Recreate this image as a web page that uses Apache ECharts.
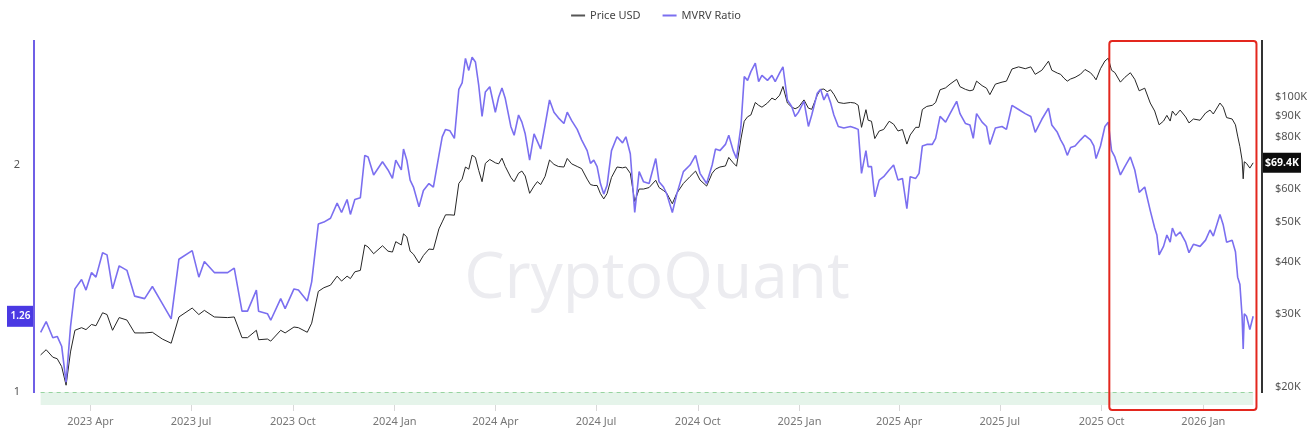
<!DOCTYPE html>
<html>
<head>
<meta charset="utf-8">
<script src="https://cdn.jsdelivr.net/npm/echarts@6.0.0/dist/echarts.min.js"></script>
<style>
  html, body { margin: 0; padding: 0; background: #ffffff; }
  #main { width: 1312px; height: 437px; }
</style>
</head>
<body>
<div id="main"></div>
<script>
// ---------------- DATA ----------------
const dates = [
  '2023-02-15','2023-02-20','2023-02-26','2023-03-02','2023-03-06','2023-03-10','2023-03-14','2023-03-18','2023-03-24','2023-03-28',
  '2023-04-02','2023-04-06','2023-04-12','2023-04-16','2023-04-21','2023-04-27','2023-05-04','2023-05-11','2023-05-20','2023-05-27',
  '2023-06-05','2023-06-13','2023-06-20','2023-07-02','2023-07-08','2023-07-13','2023-07-22','2023-08-03','2023-08-09','2023-08-16',
  '2023-08-21','2023-08-29','2023-08-31','2023-09-08','2023-09-11','2023-09-20','2023-09-24','2023-10-02','2023-10-06','2023-10-14',
  '2023-10-18','2023-10-24','2023-10-29','2023-11-04','2023-11-10','2023-11-14','2023-11-19','2023-11-22','2023-11-26','2023-12-01',
  '2023-12-05','2023-12-08','2023-12-13','2023-12-21','2023-12-26','2023-12-30','2024-01-02','2024-01-07','2024-01-09','2024-01-12',
  '2024-01-15','2024-01-18','2024-01-23','2024-01-27','2024-02-01','2024-02-05','2024-02-10','2024-02-13','2024-02-16','2024-02-20',
  '2024-02-24','2024-02-28','2024-03-02','2024-03-05','2024-03-08','2024-03-11','2024-03-14','2024-03-17','2024-03-20','2024-03-23',
  '2024-03-27','2024-04-01','2024-04-04','2024-04-07','2024-04-10','2024-04-15','2024-04-18','2024-04-22','2024-04-25','2024-04-28',
  '2024-05-02','2024-05-06','2024-05-09','2024-05-12','2024-05-16','2024-05-20','2024-05-24','2024-05-28','2024-06-02','2024-06-05',
  '2024-06-09','2024-06-14','2024-06-18','2024-06-23','2024-06-26','2024-06-29','2024-07-02','2024-07-05','2024-07-08','2024-07-11',
  '2024-07-15','2024-07-20','2024-07-25','2024-07-28','2024-08-01','2024-08-05','2024-08-09','2024-08-13','2024-08-18','2024-08-24',
  '2024-08-27','2024-08-31','2024-09-03','2024-09-08','2024-09-12','2024-09-18','2024-09-24','2024-09-29','2024-10-03','2024-10-09',
  '2024-10-14','2024-10-17','2024-10-21','2024-10-26','2024-10-29','2024-11-02','2024-11-05','2024-11-09','2024-11-12','2024-11-15',
  '2024-11-18','2024-11-22','2024-11-25','2024-11-28','2024-12-03','2024-12-07','2024-12-10','2024-12-14','2024-12-17','2024-12-21',
  '2024-12-25','2024-12-28','2024-12-31','2025-01-05','2025-01-09','2025-01-12','2025-01-17','2025-01-20','2025-01-23','2025-01-26',
  '2025-01-29','2025-02-01','2025-02-05','2025-02-10','2025-02-16','2025-02-20','2025-02-23','2025-02-26','2025-03-02','2025-03-04',
  '2025-03-07','2025-03-10','2025-03-14','2025-03-18','2025-03-23','2025-03-27','2025-03-31','2025-04-04','2025-04-08','2025-04-11',
  '2025-04-16','2025-04-19','2025-04-22','2025-04-26','2025-05-01','2025-05-04','2025-05-08','2025-05-13','2025-05-17','2025-05-23',
  '2025-05-26','2025-05-31','2025-06-04','2025-06-07','2025-06-10','2025-06-15','2025-06-19','2025-06-22','2025-06-27','2025-07-03',
  '2025-07-07','2025-07-12','2025-07-18','2025-07-24','2025-07-29','2025-08-02','2025-08-08','2025-08-14','2025-08-17','2025-08-22',
  '2025-08-25','2025-08-28','2025-08-31','2025-09-03','2025-09-07','2025-09-12','2025-09-16','2025-09-21','2025-09-24','2025-09-26',
  '2025-09-30','2025-10-04','2025-10-07','2025-10-10','2025-10-13','2025-10-18','2025-10-22','2025-10-27','2025-10-31','2025-11-04',
  '2025-11-09','2025-11-14','2025-11-18','2025-11-20','2025-11-22','2025-11-26','2025-11-29','2025-12-02','2025-12-04','2025-12-07',
  '2025-12-11','2025-12-16','2025-12-19','2025-12-23','2025-12-29','2026-01-03','2026-01-07','2026-01-10','2026-01-16','2026-01-19',
  '2026-01-22','2026-01-27','2026-01-30','2026-02-01','2026-02-03','2026-02-05','2026-02-06','2026-02-07','2026-02-09','2026-02-12',
  '2026-02-15'
];

const priceUSD = [
  23900,24600,23600,23400,22400,20200,24300,27400,27800,27500,
  28300,28100,30200,29900,27400,29400,29000,27000,27000,27100,
  26100,25500,29500,31000,29900,30600,29500,29400,29500,26300,
  26300,27400,26000,26100,25800,27400,27000,27900,27800,27100,
  28500,34000,34700,35200,37000,36000,37000,36500,37900,38200,
  44000,43500,41900,43800,42500,42300,44800,44000,46800,46000,
  42500,41800,39800,41500,43000,42900,48100,50000,52000,52000,
  51900,61900,63400,67800,67000,72400,71500,66500,62500,69200,
  70700,69400,69000,71200,68000,64000,62500,65500,66300,64500,
  58600,61000,62500,61500,64400,70500,68800,68000,67800,71100,
  69000,68000,67200,63400,61500,61200,61200,58500,56800,58500,
  64000,67800,67500,67800,65500,56000,60000,60000,60500,63000,
  60500,59500,58600,55300,58600,61900,64300,66300,63100,61000,
  65500,67000,67800,68200,71500,69400,68100,79200,87400,89600,
  90500,97000,95500,94500,96700,99400,98400,101000,106000,96700,
  94500,93700,94500,98400,94000,93400,101000,104300,104500,103000,
  104100,101500,97000,96500,97000,96700,95500,84500,93200,87900,
  87400,79400,82800,83500,87400,86000,82800,83500,77000,81000,
  84500,84500,93300,94900,95500,97000,104100,105200,107400,110300,
  105900,104300,103500,104000,109200,106500,105000,101300,107400,108600,
  109200,116800,118200,117000,118200,113400,116000,122000,116000,114200,
  113400,111000,109200,110500,111500,113500,116500,114400,112000,110000,
  117000,122100,124000,116000,114500,108600,111500,114400,110300,103500,
  105000,96700,92500,89000,85700,87500,90300,87500,92500,90300,
  93000,89500,86600,88500,87900,91500,93000,91000,96700,94500,
  89200,88500,85700,80500,76000,70500,63500,69800,69200,67400,
  69400
];

const mvrvRatio = [
  1.20,1.24,1.18,1.185,1.15,1.03,1.22,1.37,1.41,1.365,
  1.44,1.42,1.53,1.52,1.37,1.47,1.45,1.34,1.33,1.38,
  1.31,1.25,1.50,1.54,1.42,1.49,1.44,1.44,1.46,1.28,
  1.28,1.365,1.28,1.27,1.245,1.33,1.29,1.37,1.365,1.32,
  1.40,1.67,1.68,1.70,1.78,1.73,1.80,1.72,1.80,1.81,
  2.06,2.05,1.94,2.02,1.97,1.92,2.03,1.97,2.10,2.03,
  1.91,1.87,1.76,1.85,1.89,1.87,2.06,2.18,2.23,2.22,
  2.17,2.52,2.57,2.77,2.67,2.78,2.74,2.55,2.32,2.50,
  2.54,2.35,2.46,2.53,2.45,2.25,2.19,2.33,2.28,2.20,
  2.03,2.20,2.15,2.10,2.26,2.44,2.35,2.31,2.27,2.35,
  2.29,2.23,2.16,2.09,2.01,2.03,1.99,1.89,1.83,1.88,
  2.09,2.18,2.14,2.18,2.07,1.73,1.96,1.90,1.89,2.04,
  1.90,1.87,1.83,1.73,1.83,1.96,2.00,2.06,1.95,1.89,
  2.00,2.10,2.09,2.13,2.19,2.09,2.04,2.25,2.62,2.59,
  2.66,2.73,2.58,2.63,2.59,2.63,2.58,2.65,2.70,2.44,
  2.39,2.32,2.35,2.43,2.25,2.33,2.49,2.52,2.44,2.49,
  2.42,2.33,2.25,2.24,2.25,2.24,2.23,1.95,2.09,1.99,
  1.99,1.815,1.91,1.93,1.97,2.00,1.91,1.92,1.75,1.93,
  1.92,1.95,2.12,2.13,2.13,2.17,2.32,2.28,2.34,2.43,
  2.34,2.27,2.26,2.17,2.34,2.28,2.25,2.13,2.24,2.25,
  2.23,2.40,2.37,2.34,2.32,2.21,2.30,2.38,2.26,2.21,
  2.16,2.12,2.06,2.11,2.12,2.16,2.19,2.16,2.12,2.04,
  2.12,2.25,2.28,2.09,2.05,1.94,1.99,2.05,1.97,1.84,
  1.87,1.74,1.65,1.615,1.52,1.56,1.615,1.58,1.65,1.61,
  1.63,1.58,1.53,1.57,1.56,1.59,1.64,1.61,1.72,1.665,
  1.58,1.59,1.535,1.42,1.39,1.26,1.14,1.27,1.26,1.21,
  1.26
];

const monthNames = ['Jan','Feb','Mar','Apr','May','Jun','Jul','Aug','Sep','Oct','Nov','Dec'];
const priceTicks = [20000, 30000, 40000, 50000, 60000, 70000, 80000, 90000, 100000];
const priceTickLabels = ['$20K','$30K','$40K','$50K','$60K','','$80K','$90K','$100K'];
const mvrvTicks = [1, 2];
const highlightRange = ['2025-10-08', '2026-02-18'];
const xRange = ['2023-02-09', '2026-02-23'];
const mvrvRange = [0.961, 2.93];
const priceRange = [18100, 137200];

// ---------------- CHART ----------------
const FONT = '"Noto Sans", "Open Sans", sans-serif';
const QUARTER_MS = 3 * 30.5 * 24 * 3600 * 1000;
const priceSeries = dates.map((d, i) => [d, priceUSD[i]]);
const mvrvSeries = dates.map((d, i) => [d, mvrvRatio[i]]);
const firstDate = dates[0], lastDate = dates[dates.length - 1];

const chart = echarts.init(document.getElementById('main'), null, { renderer: 'canvas' });

const option = {
  animation: false,
  backgroundColor: '#ffffff',
  textStyle: { fontFamily: FONT },
  legend: {
    top: 5, left: 'center',
    itemWidth: 14, itemHeight: 2, itemGap: 22,
    icon: 'rect',
    textStyle: { color: '#444', fontSize: 11, fontFamily: FONT },
    data: [
      { name: 'Price USD', itemStyle: { color: '#555' } },
      { name: 'MVRV Ratio', itemStyle: { color: '#7b6ff0' } }
    ]
  },
  grid: { left: 34, right: 50, top: 40, bottom: 32, outerBoundsMode: 'none', containLabel: false },
  xAxis: {
    type: 'time',
    min: xRange[0], max: xRange[1],
    minInterval: QUARTER_MS, maxInterval: QUARTER_MS,
    splitNumber: 12,
    axisLine: { show: false },
    splitLine: { show: false },
    axisTick: { show: true, length: 6, lineStyle: { color: '#d8d8d8' } },
    axisLabel: {
      color: '#777', fontSize: 11, fontFamily: FONT, margin: 11,
      showMinLabel: false, showMaxLabel: false,
      formatter: function (v) {
        const d = new Date(v);
        return d.getFullYear() + ' ' + monthNames[d.getMonth()];
      }
    }
  },
  yAxis: [
    {
      type: 'log', logBase: 2, position: 'left',
      min: mvrvRange[0], max: mvrvRange[1],
      axisLine: { show: false },
      axisTick: { show: false },
      splitLine: { show: false },
      axisLabel: {
        customValues: mvrvTicks, color: '#555', fontSize: 11, fontFamily: FONT, margin: 14,
        formatter: function (v) { return String(Math.round(v)); }
      }
    },
    {
      type: 'log', logBase: 10, position: 'right',
      min: priceRange[0], max: priceRange[1],
      axisLine: { show: false },
      axisTick: { show: false },
      splitLine: { show: false },
      axisLabel: {
        customValues: priceTicks, color: '#555', fontSize: 11, fontFamily: FONT, margin: 13,
        formatter: function (v) {
          const i = priceTicks.indexOf(Math.round(v));
          return i >= 0 ? priceTickLabels[i] : '';
        }
      }
    }
  ],
  series: [
    {
      name: 'Price USD', type: 'line', yAxisIndex: 1,
      data: priceSeries, showSymbol: false, symbol: 'none',
      lineStyle: { color: '#262626', width: 1 },
      itemStyle: { color: '#555' },
      z: 3
    },
    {
      name: 'MVRV Ratio', type: 'line', yAxisIndex: 0,
      data: mvrvSeries, showSymbol: false, symbol: 'none',
      lineStyle: { color: '#7b6ff0', width: 1.6 },
      itemStyle: { color: '#7b6ff0' },
      z: 4,
      markArea: {
        silent: true,
        itemStyle: { color: '#e5f4ea' },
        data: [[{ coord: [firstDate, mvrvRange[0]] }, { coord: [lastDate, 1] }]]
      },
      markLine: {
        silent: true, symbol: 'none', label: { show: false },
        lineStyle: { color: '#97d39f', type: [4, 4], width: 1 },
        data: [[{ coord: [firstDate, 1] }, { coord: [lastDate, 1] }]]
      }
    }
  ]
};

chart.setOption(option);

// ---------------- overlays positioned through the chart's own scales ----------------
const gridRect = chart.getModel().getComponent('grid').coordinateSystem.getRect();
const lastI = dates.length - 1;
const yLastMvrv = chart.convertToPixel({ yAxisIndex: 0 }, mvrvRatio[lastI]);
const yLastPrice = chart.convertToPixel({ yAxisIndex: 1 }, priceUSD[lastI]);
const yOne = chart.convertToPixel({ yAxisIndex: 0 }, 1);
const xBox0 = chart.convertToPixel({ xAxisIndex: 0 }, highlightRange[0]);
const xBox1 = chart.convertToPixel({ xAxisIndex: 0 }, highlightRange[1]);
const gx0 = gridRect.x, gx1 = gridRect.x + gridRect.width;
const gy0 = gridRect.y, gy1 = gridRect.y + gridRect.height;

chart.setOption({
  graphic: [
    { // watermark
      type: 'text', silent: true, z: 0,
      x: (gx0 + gx1) / 2 + 9, y: 280,
      style: { text: 'CryptoQuant', fill: '#ececf0', font: '400 64px "Open Sans", "Noto Sans", sans-serif',
               textAlign: 'center', textVerticalAlign: 'middle' }
    },
    { // left axis line
      type: 'line', silent: true, z: 10,
      shape: { x1: gx0, y1: gy0, x2: gx0, y2: yOne + 1 },
      style: { stroke: '#6f5fe6', lineWidth: 2 }
    },
    { // right axis line
      type: 'line', silent: true, z: 10,
      shape: { x1: gx1, y1: gy0, x2: gx1, y2: yOne + 1 },
      style: { stroke: '#333', lineWidth: 2 }
    },
    { // highlight box
      type: 'rect', silent: true, z: 20,
      shape: { x: xBox0, y: gy0 + 1, width: xBox1 - xBox0, height: gy1 - gy0 + 4, r: 3 },
      style: { fill: 'none', stroke: '#e3271e', lineWidth: 2 }
    },
    { // last MVRV label
      type: 'group', z: 30,
      children: [
        { type: 'rect', shape: { x: gx0 - 27, y: yLastMvrv - 10.5, width: 27, height: 21 },
          style: { fill: '#4a39e3' } },
        { type: 'text', x: gx0 - 13.5, y: yLastMvrv,
          style: { text: mvrvRatio[lastI].toFixed(2), fill: '#fff', font: '600 10px "Noto Sans", sans-serif',
                   textAlign: 'center', textVerticalAlign: 'middle' } }
      ]
    },
    { // last price label
      type: 'group', z: 30,
      children: [
        { type: 'rect', shape: { x: gx1 + 1, y: yLastPrice - 10, width: 38, height: 20 },
          style: { fill: '#0d0d0d' } },
        { type: 'text', x: gx1 + 20, y: yLastPrice,
          style: { text: '$' + (priceUSD[lastI] / 1000).toFixed(1) + 'K', fill: '#fff',
                   font: '700 10.5px "Noto Sans", sans-serif', textAlign: 'center', textVerticalAlign: 'middle' } }
      ]
    }
  ]
});
</script>
</body>
</html>
